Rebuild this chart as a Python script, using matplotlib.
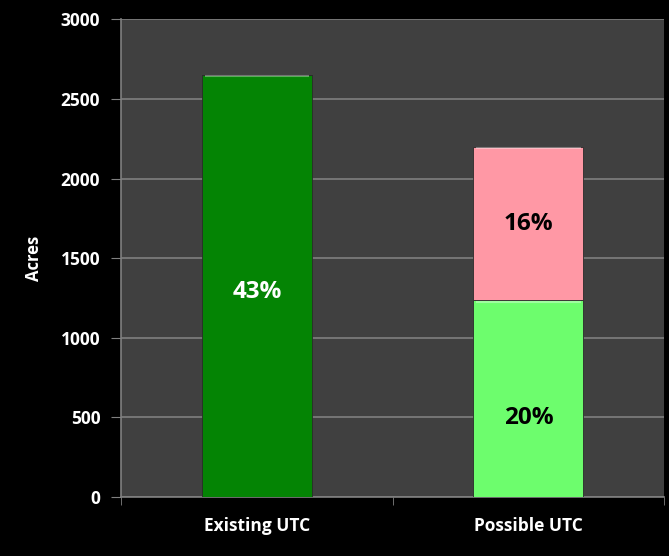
import matplotlib
matplotlib.use("Agg")
import matplotlib.pyplot as plt
import numpy as np

categories = ["Existing UTC", "Possible UTC"]
base_values = [2650, 1235]
top_values = [0, 965]
base_labels = ["43%", "20%"]
top_labels = ["", "16%"]
base_colors = ["#048404", "#6dfd6d"]
top_color = "#ff98a5"
label_colors = ["white", "black"]

plt.rcParams["font.family"] = ["Open Sans", "DejaVu Sans"]
plt.rcParams["font.weight"] = "bold"

fig = plt.figure(figsize=(6.69, 5.56), dpi=100, facecolor="black")
ax = fig.add_axes([0.181, 0.106, 0.8117, 0.859])
ax.set_facecolor("#404040")

x = np.arange(len(categories))
w = 0.405
b1 = ax.bar(x, base_values, w, color=base_colors, edgecolor="#2a2a2a", linewidth=0.6, zorder=3)
b2 = ax.bar(x, top_values, w, bottom=base_values, color=top_color, edgecolor="#2a2a2a", linewidth=0.6, zorder=3)

# light top edge to give the bars a slight bevel
for rect in list(b1) + list(b2):
    if rect.get_height() > 0:
        x0 = rect.get_x()
        yt = rect.get_y() + rect.get_height()
        ax.plot([x0 + 0.01, x0 + rect.get_width() - 0.01], [yt - 8, yt - 8],
                color="white", alpha=0.35, lw=1.5, zorder=4, solid_capstyle="butt")

label_pos = [0.485, 0.4]
for i in range(len(categories)):
    ax.text(x[i], base_values[i] * label_pos[i], base_labels[i], ha="center", va="center",
            color=label_colors[i], fontsize=17.5, fontweight="bold", zorder=5)
    if top_values[i] > 0:
        ax.text(x[i], base_values[i] + top_values[i] / 2, top_labels[i], ha="center",
                va="center", color="black", fontsize=17.5, fontweight="bold", zorder=5)

ax.set_xlim(-0.5, 1.5)
ax.set_ylim(0, 3000)
ax.set_yticks(np.arange(0, 3001, 500))
ax.yaxis.grid(True, color="#7f7f7f", linewidth=1.2, zorder=0)
ax.set_axisbelow(True)

ax.set_xticks(x)
ax.set_xticklabels(categories)
ax.set_xticks([-0.5, 0.5, 1.5], minor=True)
ax.tick_params(axis="x", which="major", length=0, pad=14, colors="white", labelsize=12.5)
ax.tick_params(axis="x", which="minor", length=6, color="#808080")
ax.tick_params(axis="y", length=7, color="#808080", colors="white", labelsize=12.5, pad=8)
for lbl in ax.get_xticklabels() + ax.get_yticklabels():
    lbl.set_fontweight("bold")

for s in ["top", "right"]:
    ax.spines[s].set_visible(False)
for s in ["left", "bottom"]:
    ax.spines[s].set_color("#808080")
    ax.spines[s].set_linewidth(1.2)

ax.set_ylabel("Acres", color="white", fontsize=12, fontweight="bold", labelpad=13)

fig.savefig("out.png", dpi=100, facecolor="black")
